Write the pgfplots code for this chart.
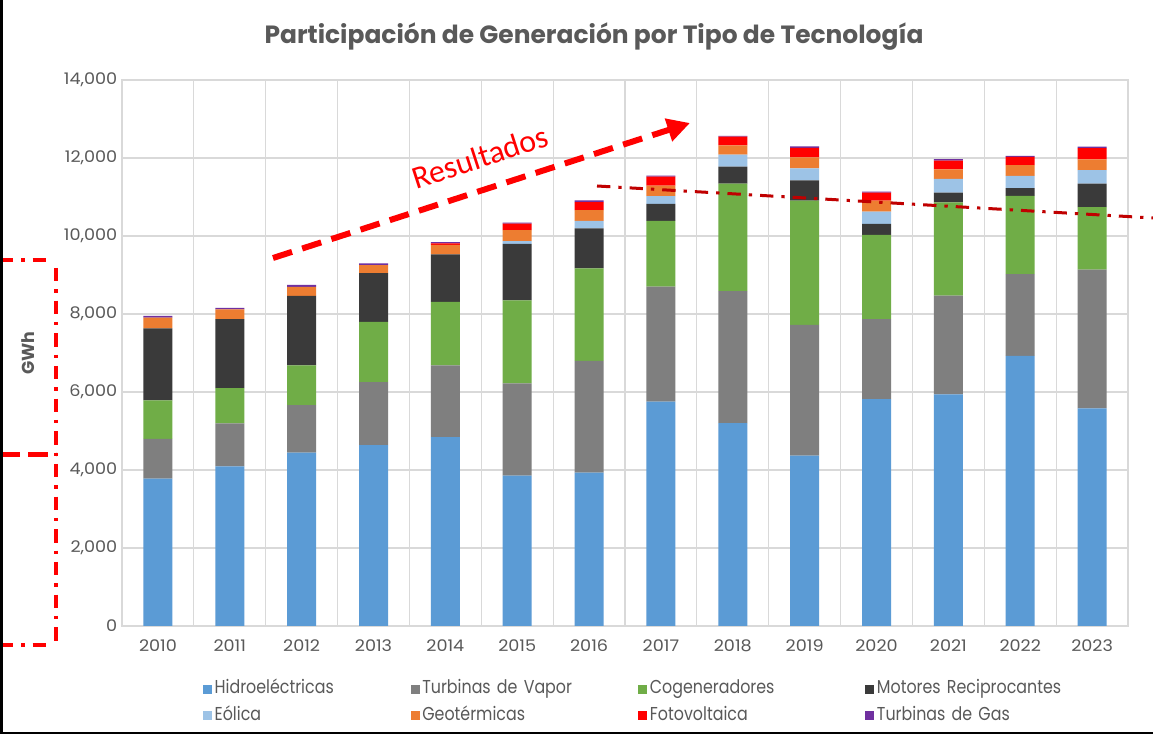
\documentclass[border=0pt]{standalone}
\usepackage{fontspec}
\setmainfont{Poppins}
\newfontfamily\legfont[FakeStretch=0.85]{Poppins}
\newfontfamily\tickfont[FakeStretch=1.1]{Poppins}
\newfontfamily\calfont{Carlito}
\usepackage{pgfplots}
\pgfplotsset{compat=1.18}
\usetikzlibrary{arrows.meta}
\definecolor{chydro}{HTML}{5B9BD5}
\definecolor{cvapor}{HTML}{7F7F7F}
\definecolor{ccogen}{HTML}{70AD47}
\definecolor{cmotor}{HTML}{3A3A3A}
\definecolor{ceol}{HTML}{9DC3E6}
\definecolor{cgeo}{HTML}{ED7D31}
\definecolor{cfoto}{HTML}{FF0000}
\definecolor{cgas}{HTML}{7030A0}
\definecolor{txtgray}{HTML}{595959}
\definecolor{gridgray}{HTML}{D9D9D9}
\definecolor{darkred}{HTML}{C00000}

\pgfplotstableread{
x hydro vapor cogen motor eol geo foto gas
0 3780 1015 990 1845 0 280 0 40
1 4095 1100 905 1770 0 250 0 35
2 4445 1220 1015 1785 0 230 0 50
3 4640 1615 1540 1255 0 200 0 50
4 4840 1845 1625 1220 0 240 40 35
5 3855 2365 2130 1445 75 280 170 25
6 3930 2870 2370 1025 190 280 205 45
7 5750 2950 1690 435 200 265 230 25
8 5200 3385 2760 435 305 240 220 25
9 4370 3350 3190 515 310 280 245 35
10 5820 2050 2160 280 315 280 205 25
11 5940 2530 2395 250 350 240 230 35
12 6925 2095 2010 195 315 275 215 25
13 5580 3555 1605 600 350 275 290 35
}\datatable

\begin{document}
\begin{tikzpicture}
\path[use as bounding box, fill=white] (0pt,0pt) rectangle (864.75pt,551.25pt);
\begin{axis}[
  at={(91.5pt,81.75pt)}, anchor=south west,
  scale only axis, width=754.5pt, height=409.5pt,
  ybar stacked, bar width=21.75pt,
  xmin=-0.5, xmax=13.5, ymin=0, ymax=14000,
  xtick={0,...,13},
  xticklabels={2010,2011,2012,2013,2014,2015,2016,2017,2018,2019,2020,2021,2022,2023},
  minor xtick={-0.5,0.5,1.5,2.5,3.5,4.5,5.5,6.5,7.5,8.5,9.5,10.5,11.5,12.5,13.5},
  ytick={0,2000,4000,6000,8000,10000,12000,14000},
  scaled y ticks=false,
  yticklabel={\pgfmathprintnumber[assume math mode=true,1000 sep={,}]{\tick}},
  xminorgrids, ymajorgrids,
  major grid style={draw=gridgray, line width=0.9pt},
  minor grid style={draw=gridgray, line width=0.9pt},
  axis line style={draw=gridgray, line width=0.9pt},
  major tick length=0pt, minor tick length=0pt,
  tick style={draw=none},
  ticklabel style={font=\tickfont\fontsize{12}{14}\selectfont, text=txtgray},
  xticklabel style={yshift=-7pt},
  legend columns=4,
  legend style={
    at={(0.0805,-0.140)}, anchor=west, draw=none, fill=none,
    inner sep=0pt, outer sep=0pt,
    font=\legfont\fontsize{14}{16}\selectfont, text=txtgray,
    nodes={text width=155pt, align=left, inner sep=2pt, text height=10pt, text depth=3pt},
    row sep=3pt,
    /tikz/column 2/.style={nodes={text width=145pt}},
    /tikz/column 4/.style={nodes={text width=160pt}},
    /tikz/column 6/.style={nodes={text width=159.5pt}},
  },
  legend image code/.code={\fill[#1] (0pt,-3.4pt) rectangle (6.75pt,3.4pt);},
  every axis plot/.append style={draw=none},
]
\addplot[fill=chydro] table[x=x,y=hydro]{\datatable};
\addplot[fill=cvapor] table[x=x,y=vapor]{\datatable};
\addplot[fill=ccogen] table[x=x,y=cogen]{\datatable};
\addplot[fill=cmotor] table[x=x,y=motor]{\datatable};
\addplot[fill=ceol] table[x=x,y=eol]{\datatable};
\addplot[fill=cgeo] table[x=x,y=geo]{\datatable};
\addplot[fill=cfoto] table[x=x,y=foto]{\datatable};
\addplot[fill=cgas] table[x=x,y=gas]{\datatable};
\legend{Hidroeléctricas,Turbinas de Vapor,Cogeneradores,Motores Reciprocantes,Eólica,Geotérmicas,Fotovoltaica,Turbinas de Gas}
\end{axis}
\begin{scope}[x=0.75pt,y=0.75pt]
\node[font=\bfseries\fontsize{18.7}{22}\selectfont, text=txtgray] at (594,698) {Participación de Generación por Tipo de Tecnología};
\node[rotate=90, font=\bfseries\fontsize{13}{15}\selectfont, text=txtgray] at (28,382) {GWh};
\draw[red, line width=4.5pt, dash pattern=on 15pt off 8pt, -{Triangle[length=17pt,width=17pt]}] (273,477) -- (690,612);
\node[rotate=18, text=red, font=\calfont\fontsize{24}{28}\selectfont] at (480,578) {Resultados};
\draw[darkred, line width=2.25pt, dash pattern=on 10pt off 6pt on 2.5pt off 6pt] (597,549) -- (1153,517);
\draw[red, line width=3pt, dash pattern=on 10pt off 6pt on 2.5pt off 6pt] (0,475) -- (53,475);
\draw[red, line width=3pt, dash pattern=on 10pt off 6pt on 2.5pt off 6pt] (56,467) -- (56,89);
\draw[red, line width=3pt, dash pattern=on 10pt off 6pt on 2.5pt off 6pt] (0,90) -- (54,90);
\draw[red, line width=3.75pt, dash pattern=on 15pt off 6pt] (0,280) -- (56,280);
\draw[black, line width=1.5pt] (1.5,735) -- (1.5,1.5) -- (1153,1.5);
\end{scope}
\end{tikzpicture}
\end{document}
